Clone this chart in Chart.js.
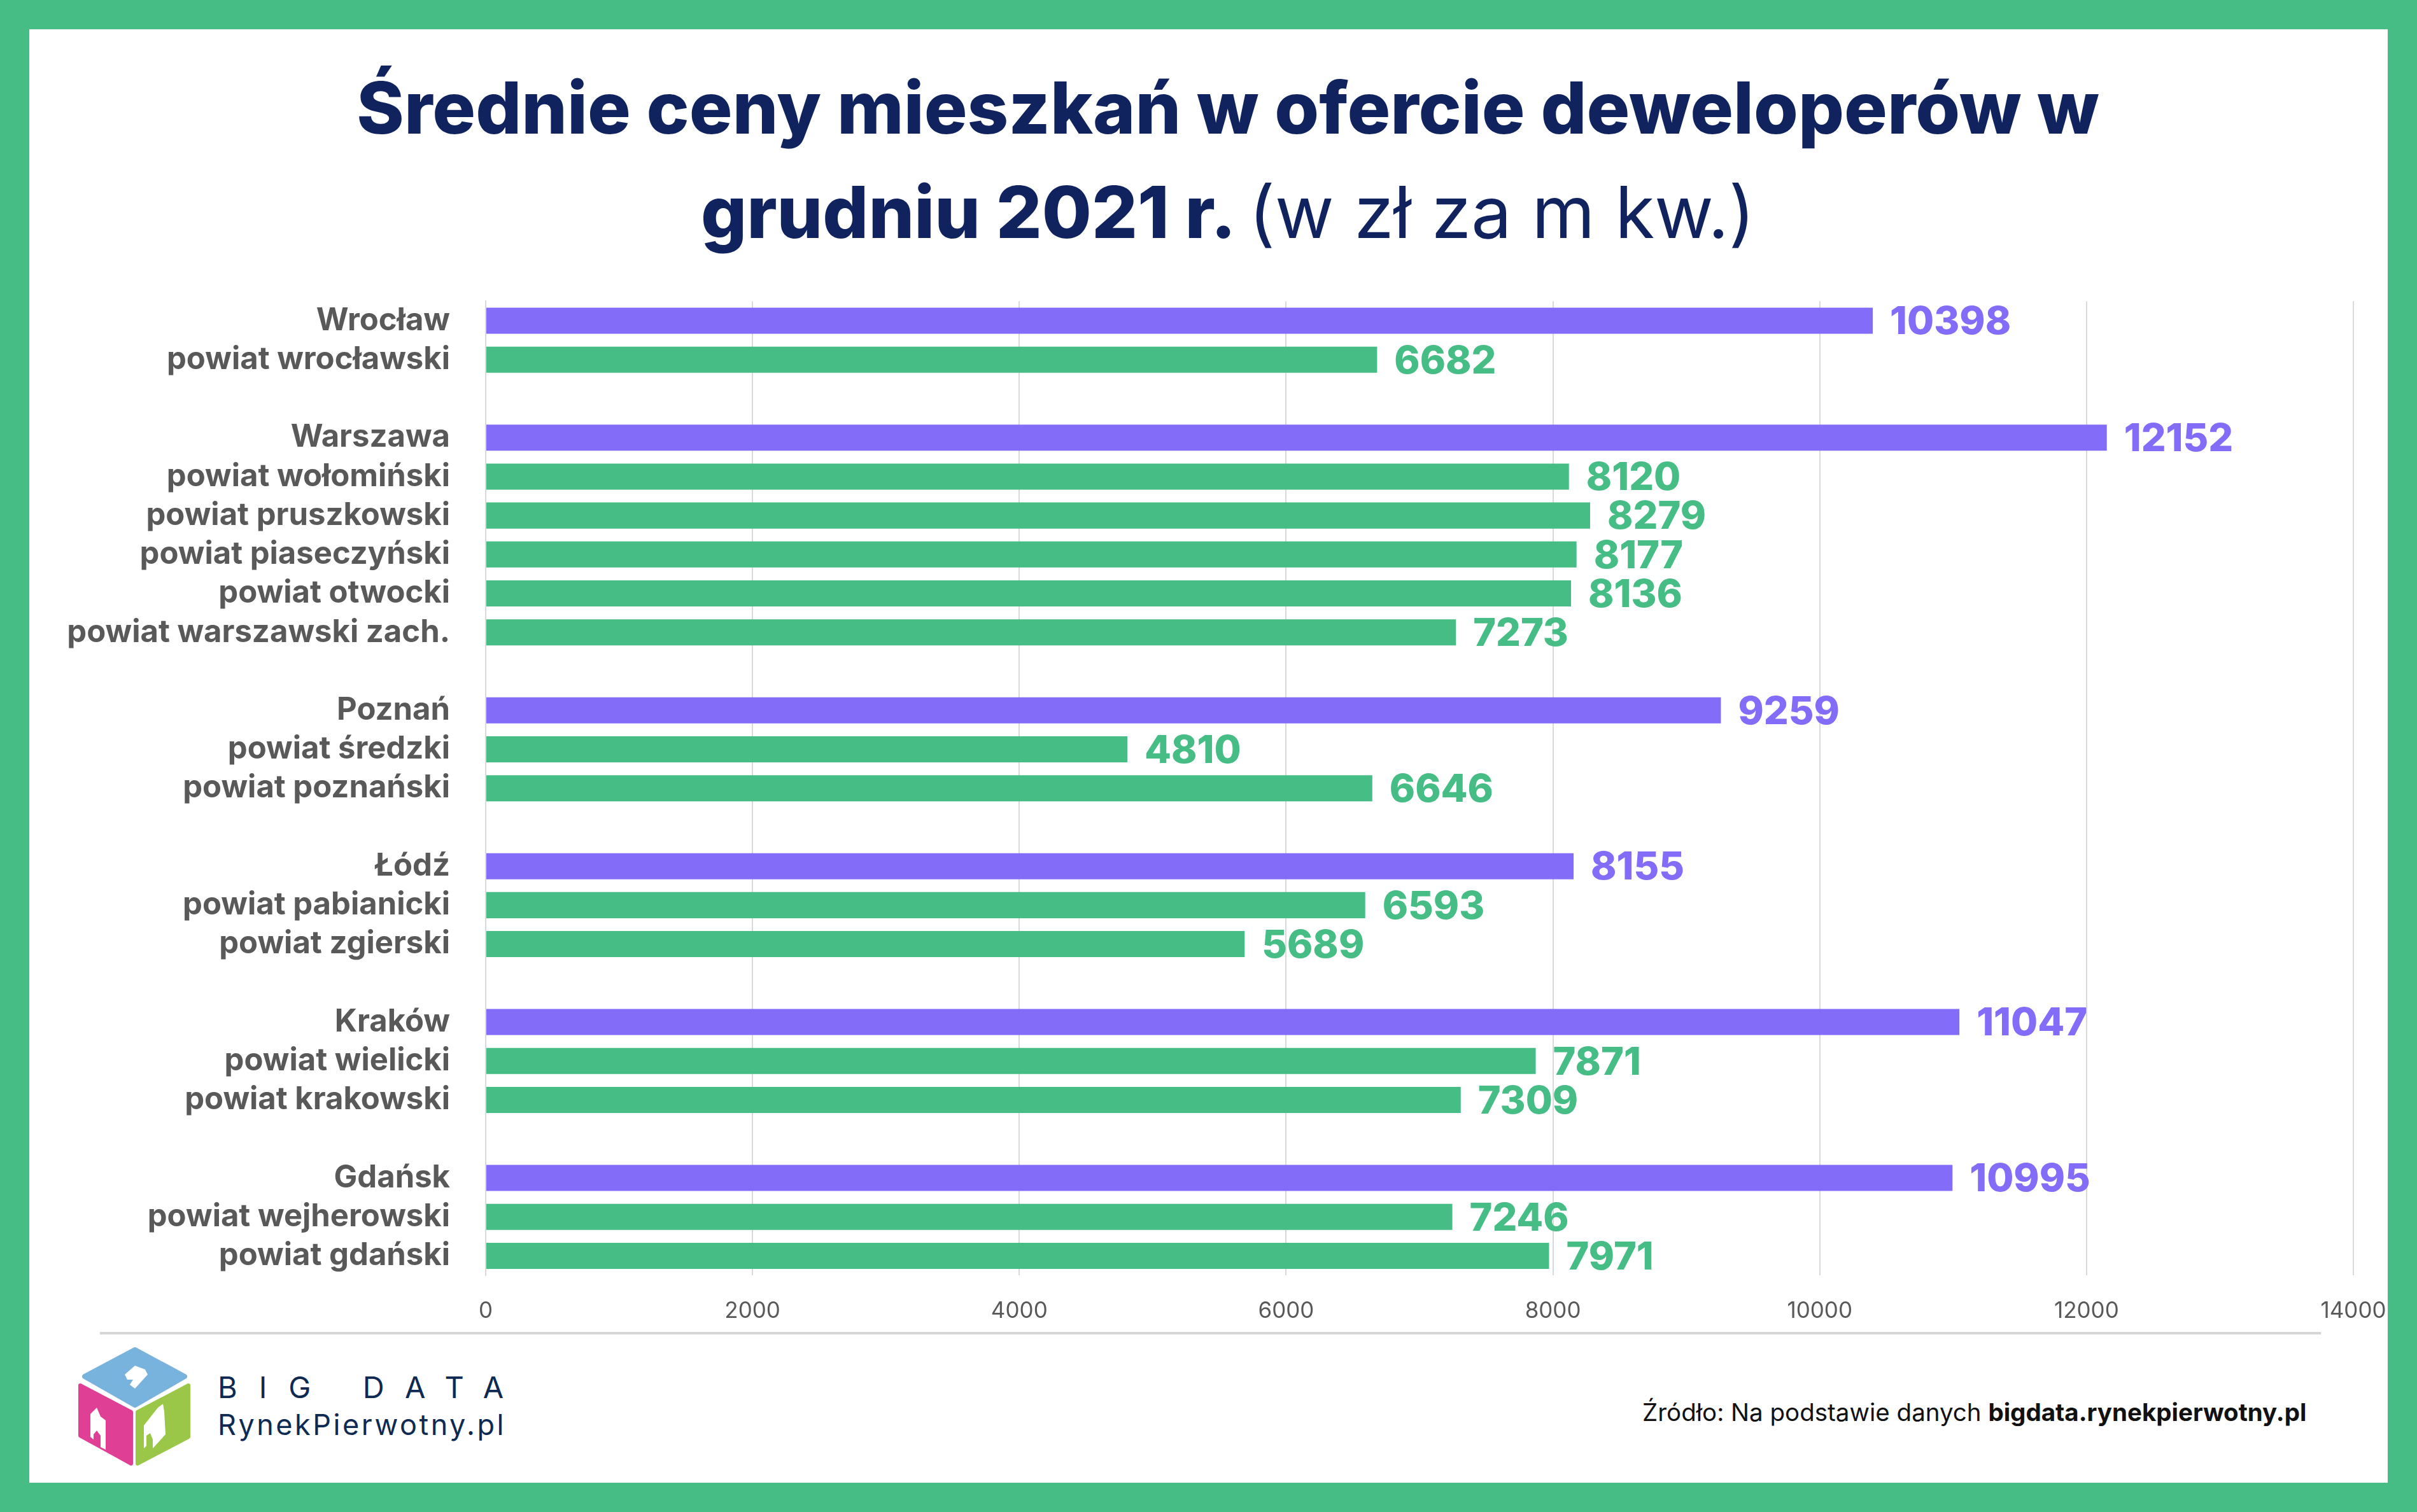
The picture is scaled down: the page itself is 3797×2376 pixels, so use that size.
<!DOCTYPE html>
<html><head><meta charset="utf-8">
<script src="https://cdn.jsdelivr.net/npm/chart.js@4.4.1/dist/chart.umd.min.js"></script>
<style>
html,body{margin:0;padding:0;}
body{width:3797px;height:2376px;position:relative;background:#47BD86;overflow:hidden;font-family:Inter, sans-serif;}
#panel{position:absolute;left:46px;top:46px;width:3705px;height:2284px;background:#fff;}
.t{position:absolute;white-space:nowrap;color:#10235f;transform:translateX(-50%);left:1929px;font-size:113px;line-height:113px;font-weight:800;}
.t .r{font-weight:400;}
#wrap{position:absolute;left:0;top:388px;width:3797px;height:1712px;}
#sep{position:absolute;left:157px;top:2093px;width:3489px;height:4px;background:#d6d6d6;}
#src{position:absolute;left:2580px;top:2200px;font-size:38.5px;line-height:38.5px;color:#111;white-space:nowrap;}
#src b{font-weight:700;}
#bd{position:absolute;left:342px;top:2156px;font-size:47px;line-height:47px;color:#0e2a52;letter-spacing:34px;white-space:nowrap;font-weight:400;}
#rp{position:absolute;left:342px;top:2216px;font-size:45px;line-height:45px;color:#0e2a52;white-space:nowrap;letter-spacing:3.5px;}
#logo{position:absolute;left:115px;top:2110px;}
</style></head>
<body>
<div id="panel"></div>
<div class="t" style="top:113px">Średnie ceny mieszkań w ofercie deweloperów w</div>
<div class="t" style="top:277px">grudniu 2021 r. <span class="r">(w zł za m kw.)</span></div>
<div id="wrap"><canvas id="c" width="3797" height="1712"></canvas></div>
<div id="sep"></div>
<svg id="logo" width="200" height="200" viewBox="115 2110 200 200">
  <path d="M212 2121 L290 2163 L212 2208 L133 2163 Z" fill="#78b3de" stroke="#78b3de" stroke-width="8" stroke-linejoin="round"/>
  <path d="M126 2177 L206 2219 L206 2300 L126 2256 Z" fill="#e03f96" stroke="#e03f96" stroke-width="6" stroke-linejoin="round"/>
  <path d="M296 2177 L216 2219 L216 2300 L296 2258 Z" fill="#9bc748" stroke="#9bc748" stroke-width="6" stroke-linejoin="round"/>
  <path d="M196 2160 L212 2146 L228 2152 L232 2160 L212 2182 L204 2176 L209 2168 L200 2168 Z" fill="#fff"/>
  <path d="M142 2222 L152 2212 L158 2226 L166 2232 L166 2278 L158 2274 L158 2256 L152 2248 L147 2254 L147 2262 L142 2258 Z" fill="#fff"/>
  <path d="M248 2212 L256 2206 L258 2218 L260 2254 L240 2276 L240 2262 L236 2252 L230 2256 L230 2272 L226 2276 L226 2240 Z" fill="#fff"/>
</svg>
<div id="bd">BIG DATA</div>
<div id="rp">RynekPierwotny.pl</div>
<div id="src">Źródło: Na podstawie danych <b>bigdata.rynekpierwotny.pl</b></div>
<script>
const categories = ['Wrocław','powiat wrocławski','',
  'Warszawa','powiat wołomiński','powiat pruszkowski','powiat piaseczyński','powiat otwocki','powiat warszawski zach.','',
  'Poznań','powiat średzki','powiat poznański','',
  'Łódź','powiat pabianicki','powiat zgierski','',
  'Kraków','powiat wielicki','powiat krakowski','',
  'Gdańsk','powiat wejherowski','powiat gdański'];
const cityPrices = [10398,null,null, 12152,null,null,null,null,null,null, 9259,null,null,null, 8155,null,null,null, 11047,null,null,null, 10995,null,null];
const powiatPrices = [null,6682,null, null,8120,8279,8177,8136,7273,null, null,4810,6646,null, null,6593,5689,null, null,7871,7309,null, null,7246,7971];
const xTickValues = [0,2000,4000,6000,8000,10000,12000,14000];

const PURPLE = '#836cf8', GREEN = '#47bd86', GRID = '#d9d9d9', LABEL = '#595959';

const valueLabels = {
  id:'valueLabels',
  afterDatasetsDraw(chart){
    const ctx = chart.ctx;
    chart.data.datasets.forEach((ds,i)=>{
      const meta = chart.getDatasetMeta(i);
      meta.data.forEach((bar,j)=>{
        const v = ds.data[j];
        if (v == null) return;
        ctx.save();
        ctx.font = '800 61px Inter';
        ctx.fillStyle = ds.backgroundColor;
        ctx.textAlign = 'left';
        ctx.textBaseline = 'middle';
        ctx.fillText(String(v), bar.x + 27, bar.y + 3);
        ctx.restore();
      });
    });
  }
};

new Chart(document.getElementById('c'), {
  type:'bar',
  data:{
    labels:categories,
    datasets:[
      {label:'Miasto', data:cityPrices, backgroundColor:PURPLE, barPercentage:0.67, categoryPercentage:1},
      {label:'Powiat', data:powiatPrices, backgroundColor:GREEN, barPercentage:0.67, categoryPercentage:1}
    ]
  },
  options:{
    indexAxis:'y',
    responsive:false,
    animation:false,
    layout:{padding:{top:61,right:100,bottom:19,left:0}},
    plugins:{legend:{display:false},tooltip:{enabled:false}},
    scales:{
      x:{
        stacked:true, min:0, max:14000,
        afterBuildTicks(s){ s.ticks = xTickValues.map(v=>({value:v})); },
        afterFit(s){ s.height = 77; },
        ticks:{font:{family:'Inter',size:35,weight:'400'},color:LABEL,padding:35,maxRotation:0,
               callback:(v)=>String(v)},
        grid:{color:GRID,lineWidth:2,drawTicks:false},
        border:{display:false}
      },
      y:{
        stacked:true,
        afterFit(s){ s.width = 763; },
        ticks:{font:{family:'Inter',size:49,weight:'700'},color:LABEL,padding:56,autoSkip:false},
        grid:{display:false,drawTicks:false},
        border:{display:true,color:GRID,width:2}
      }
    }
  },
  plugins:[valueLabels]
});
</script>
</body></html>
